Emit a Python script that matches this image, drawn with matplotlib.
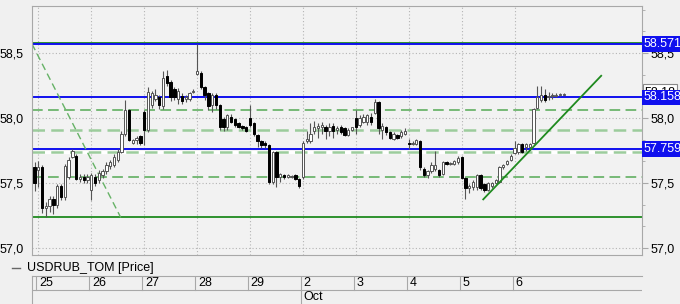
import matplotlib
matplotlib.use('Agg')
import matplotlib.pyplot as plt
from matplotlib.ticker import FuncFormatter, FixedLocator
import numpy as np

# hourly USDRUB_TOM candles, 14 per trading day (first one is the tail of the previous day)
day_labels = ['25', '26', '27', '28', '29', '2', '3', '4', '5', '6']
month_label = 'Oct'
month_day = 5  # position of "2" in day_labels
bars_per_day = 14

opens = [57.62,
         57.60, 57.62, 57.31, 57.32, 57.38, 57.33, 57.48, 57.39, 57.55, 57.70, 57.71, 57.53, 57.55, 57.52,
         57.45, 57.55, 57.52, 57.56, 57.59, 57.63, 57.64, 57.68, 57.74, 57.88, 58.06, 57.81, 57.83, 57.86,
         58.05, 57.91, 58.10, 58.15, 58.16, 58.09, 58.32, 58.28, 58.22, 58.15, 58.17, 58.15, 58.15, 58.20,
         58.34, 58.35, 58.24, 58.19, 58.10, 58.18, 58.10, 57.99, 57.93, 58.01, 57.99, 57.96, 57.94, 57.93,
         58.00, 57.96, 57.87, 57.82, 57.81, 57.79, 57.51, 57.74, 57.55, 57.56, 57.55, 57.55, 57.56, 57.53,
         57.55, 57.82, 57.82, 57.90, 57.92, 57.93, 57.93, 57.90, 57.94, 57.91, 57.93, 57.92, 57.87, 57.91,
         58.00, 57.95, 57.97, 57.97, 58.01, 58.04, 58.12, 57.91, 57.93, 57.89, 57.84, 57.87, 57.86, 57.88,
         57.81, 57.80, 57.80, 57.82, 57.61, 57.56, 57.59, 57.61, 57.60, 57.57, 57.66, 57.65, 57.65, 57.66,
         57.70, 57.54, 57.46, 57.47, 57.47, 57.56, 57.49, 57.45, 57.48, 57.50, 57.51, 57.62, 57.65, 57.68,
         57.73, 57.74, 57.80, 57.78, 57.78, 57.81, 58.08, 58.14, 58.18, 58.16, 58.17, 58.17, 58.18, 58.18]
highs = [57.66,
         57.67, 57.64, 57.35, 57.40, 57.40, 57.49, 57.49, 57.65, 57.70, 57.76, 57.72, 57.57, 57.57, 57.57,
         57.58, 57.57, 57.60, 57.61, 57.66, 57.68, 57.72, 57.76, 57.90, 58.14, 58.07, 57.84, 57.86, 57.87,
         58.06, 58.24, 58.21, 58.22, 58.18, 58.36, 58.37, 58.29, 58.24, 58.23, 58.19, 58.18, 58.20, 58.22,
         58.57, 58.36, 58.25, 58.20, 58.19, 58.19, 58.11, 58.01, 58.03, 58.03, 58.00, 57.97, 57.95, 57.94,
         58.10, 57.97, 57.88, 57.83, 57.82, 57.80, 57.75, 57.75, 57.58, 57.57, 57.57, 57.56, 57.57, 57.54,
         57.82, 57.90, 57.96, 57.98, 57.96, 57.97, 57.95, 57.96, 57.96, 57.94, 57.95, 57.93, 57.92, 57.93,
         58.06, 58.02, 58.03, 58.03, 58.04, 58.15, 58.13, 57.96, 57.94, 57.90, 57.89, 57.88, 57.91, 57.92,
         57.84, 57.82, 57.84, 57.83, 57.62, 57.60, 57.66, 57.75, 57.61, 57.67, 57.67, 57.66, 57.68, 57.71,
         57.71, 57.55, 57.49, 57.52, 57.57, 57.57, 57.50, 57.51, 57.51, 57.53, 57.63, 57.65, 57.68, 57.72,
         57.82, 57.81, 57.81, 57.81, 57.81, 58.08, 58.25, 58.25, 58.22, 58.20, 58.19, 58.19, 58.19, 58.19]
lows = [57.44,
        57.47, 57.27, 57.24, 57.28, 57.26, 57.31, 57.37, 57.37, 57.53, 57.69, 57.52, 57.51, 57.50, 57.50,
        57.37, 57.48, 57.50, 57.54, 57.57, 57.61, 57.62, 57.66, 57.73, 57.86, 57.82, 57.80, 57.80, 57.79,
        57.79, 57.89, 58.08, 58.13, 58.07, 58.07, 58.25, 58.13, 58.14, 58.11, 58.11, 58.12, 58.13, 58.19,
        58.33, 58.22, 58.14, 58.06, 58.05, 58.07, 57.91, 57.90, 57.91, 57.96, 57.93, 57.92, 57.91, 57.89,
        57.93, 57.86, 57.78, 57.77, 57.77, 57.49, 57.49, 57.47, 57.51, 57.53, 57.54, 57.54, 57.52, 57.46,
        57.53, 57.81, 57.81, 57.88, 57.85, 57.88, 57.84, 57.86, 57.85, 57.88, 57.88, 57.86, 57.86, 57.90,
        57.88, 57.93, 57.96, 57.95, 57.95, 58.03, 57.88, 57.84, 57.87, 57.84, 57.83, 57.84, 57.85, 57.87,
        57.76, 57.79, 57.79, 57.60, 57.55, 57.54, 57.58, 57.59, 57.55, 57.56, 57.64, 57.64, 57.64, 57.65,
        57.53, 57.38, 57.42, 57.45, 57.45, 57.45, 57.43, 57.44, 57.46, 57.49, 57.50, 57.61, 57.64, 57.67,
        57.72, 57.72, 57.73, 57.75, 57.77, 57.80, 58.07, 58.12, 58.12, 58.14, 58.15, 58.16, 58.17, 58.18]
closes = [57.50,
          57.62, 57.31, 57.32, 57.38, 57.33, 57.48, 57.39, 57.63, 57.68, 57.75, 57.53, 57.55, 57.52, 57.55,
          57.56, 57.50, 57.58, 57.59, 57.64, 57.66, 57.70, 57.74, 57.88, 58.06, 57.83, 57.83, 57.85, 57.81,
          57.91, 58.20, 58.19, 58.18, 58.10, 58.31, 58.27, 58.16, 58.16, 58.21, 58.13, 58.16, 58.19, 58.21,
          58.36, 58.24, 58.18, 58.09, 58.18, 58.10, 57.93, 57.93, 58.02, 57.97, 57.95, 57.93, 57.92, 57.90,
          57.95, 57.88, 57.82, 57.79, 57.79, 57.51, 57.74, 57.55, 57.57, 57.55, 57.56, 57.55, 57.53, 57.48,
          57.81, 57.84, 57.88, 57.93, 57.94, 57.95, 57.90, 57.93, 57.90, 57.92, 57.89, 57.87, 57.91, 57.93,
          57.93, 58.00, 58.01, 58.02, 57.97, 58.12, 57.92, 57.94, 57.89, 57.85, 57.88, 57.85, 57.89, 57.90,
          57.80, 57.81, 57.83, 57.62, 57.56, 57.59, 57.64, 57.64, 57.56, 57.66, 57.65, 57.65, 57.67, 57.69,
          57.54, 57.46, 57.48, 57.51, 57.56, 57.46, 57.45, 57.50, 57.50, 57.52, 57.62, 57.64, 57.67, 57.71,
          57.77, 57.80, 57.74, 57.80, 57.80, 58.07, 58.16, 58.18, 58.14, 58.17, 58.17, 58.18, 58.18, 58.185]

# drawn levels / studies
blue_levels = [58.571, 58.158, 57.759]
blue_texts = ['58.571', '58.158', '57.759']
green_levels = [58.579, 57.235]
dash_levels = [58.062, 57.544]
light_dash_levels = [57.905, 57.741]
fall_x = [-1.67, 21.8]
fall_y = [58.57, 57.235]
trend_x = [117.7, 148.9]
trend_y = [57.374, 58.325]
last_text = '58,18'
last_level = 58.20

bg = '#f0f0f0'
fig = plt.figure(figsize=(6.8, 3.04), dpi=100, facecolor=bg)
plt.rcParams['font.family'] = ['Liberation Sans', 'DejaVu Sans']

ax = fig.add_axes([32 / 680, 1 - 255 / 304, 610 / 680, 249 / 304])
ax.set_facecolor('#f2f2f2')
for s in ax.spines.values():
    s.set_color('#a8a8a8')

x = np.arange(len(opens)) - 1
o = np.array(opens); h = np.array(highs); l = np.array(lows); c = np.array(closes)
up = c >= o

ax.vlines(x, l, h, color='#555555', lw=0.8, zorder=3)
body_bottom = np.minimum(o, c)
body_h = np.maximum(np.abs(c - o), 0.006)
ax.bar(x[up], body_h[up], bottom=body_bottom[up], width=0.62, color='white',
       edgecolor='#555555', linewidth=0.7, zorder=4)
ax.bar(x[~up], body_h[~up], bottom=body_bottom[~up], width=0.62, color='black',
       edgecolor='black', linewidth=0.7, zorder=4)

# grid
day_pos = np.arange(len(day_labels)) * bars_per_day
for d in day_pos:
    ax.axvline(d, color='#b4b4b4', lw=0.8, ls=(0, (1, 2)), zorder=1)
for yv in [57.0, 57.5, 58.0, 58.5]:
    ax.axhline(yv, color='#b4b4b4', lw=0.8, ls=(0, (1, 2)), zorder=1)

# levels
for yv in green_levels:
    ax.axhline(yv, color='#1f8a1f', lw=1.3, zorder=2)
for yv in blue_levels:
    ax.axhline(yv, color='#1010ee', lw=1.4, zorder=2)
ax.axhline(light_dash_levels[1], color='white', lw=2.4, zorder=1.5)
for yv in light_dash_levels:
    ax.axhline(yv, color='#9ccc9c', lw=1.8, ls=(0, (5, 2.5)), zorder=1.8)
for yv in dash_levels:
    ax.axhline(yv, color='#55aa55', lw=1.1, ls=(0, (7, 3.5)), zorder=1.8)
ax.plot(fall_x, fall_y, color='#66b266', lw=1.0, ls=(0, (5, 3)), zorder=2)
ax.plot(trend_x, trend_y, color='#1f8a1f', lw=1.3, zorder=5)

ax.set_xlim(-1.67, 159.7)
ax.set_ylim(56.946, 58.862)
ax.set_xticks([])
ax.yaxis.set_major_locator(FixedLocator([57.0, 57.5, 58.0, 58.5]))
ax.yaxis.set_minor_locator(FixedLocator(np.arange(57.0, 58.86, 0.5 / 3)))
fmt = FuncFormatter(lambda v, p: f'{v:.1f}'.replace('.', ','))
ax.yaxis.set_major_formatter(fmt)
ax.tick_params(axis='y', which='both', left=False, right=True, labelleft=True,
               labelright=True, labelsize=9, colors='#a8a8a8', labelcolor='black')
ax.tick_params(axis='y', which='major', length=4, pad=2)
ax.tick_params(axis='y', which='minor', length=2)

# right price labels
ax.text(1.004, last_level, last_text, transform=ax.get_yaxis_transform(), fontsize=9,
        va='center', ha='left', color='black', clip_on=False, zorder=6,
        bbox=dict(boxstyle='square,pad=0.15', fc='white', ec='#888888', lw=0.8))
for yv, t in zip(blue_levels, blue_texts):
    ax.text(1.003, yv, t, transform=ax.get_yaxis_transform(), fontsize=9,
            va='center', ha='left', color='white', clip_on=False, zorder=7,
            bbox=dict(boxstyle='square,pad=0.15', fc='#1010ee', ec='none'))

# legend row
fig.lines.append(plt.Line2D([12 / 680, 20 / 680], [1 - 268 / 304] * 2, color='#666666', lw=1,
                            transform=fig.transFigure))
fig.text(27 / 680, 1 - 268 / 304, 'USDRUB_TOM [Price]', fontsize=9, va='center', ha='left')

# date axis panel
dax = fig.add_axes([32 / 680, 0, 610 / 680, 28 / 304], sharex=ax)
dax.set_facecolor(bg)
dax.set_ylim(0, 1)
dax.set_xticks([]); dax.set_yticks([])
for s in ['right', 'bottom']:
    dax.spines[s].set_visible(False)
dax.spines['top'].set_color('#a8a8a8')
dax.spines['left'].set_color('#a8a8a8')
dax.axhline(0.5, color='#a8a8a8', lw=0.8)
for i, (d, lab) in enumerate(zip(day_pos, day_labels)):
    lo = 0.0 if i == month_day else 0.5
    dax.axvline(d - 0.5, ymin=lo, ymax=1, color='#a8a8a8', lw=0.8)
    dax.text(d + 0.2, 0.75, lab, fontsize=9, va='center', ha='left')
dax.text(day_pos[month_day] + 0.2, 0.25, month_label, fontsize=9, va='center', ha='left')

fig.savefig('out.png', dpi=100, facecolor=bg)
